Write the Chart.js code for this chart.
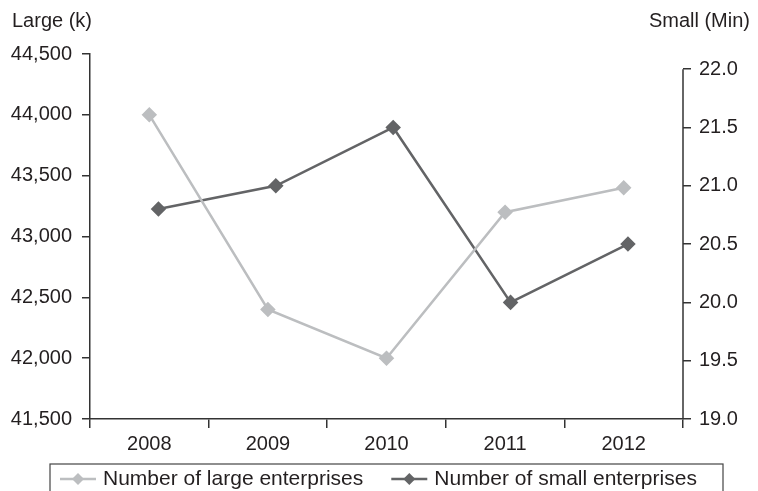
<!DOCTYPE html>
<html>
<head>
<meta charset="utf-8">
<script src="https://cdn.jsdelivr.net/npm/chart.js@4.4.1/dist/chart.umd.min.js"></script>
<style>
  html, body { margin: 0; padding: 0; background: #fff; }
  #chart { display: block; }
</style>
</head>
<body>
<canvas id="chart" width="758" height="491"></canvas>
<script>
// data
const years = ['2008', '2009', '2010', '2011', '2012'];
const largeEnterprises = [44000, 42400, 42000, 43200, 43400];
const smallEnterprises = [20.8, 21.0, 21.5, 20.0, 20.5];
const largeLabel = 'Number of large enterprises';
const smallLabel = 'Number of small enterprises';
const largeTitle = 'Large (k)';
const smallTitle = 'Small (Min)';

const textColor = '#231f20';
const axisColor = '#333333';
const largeColor = '#bcbec0';
const smallColor = '#636466';
const fontFamily = '"Liberation Sans", Arial, sans-serif';

// axis titles on top of the two y axes + boxed legend under the x axis
const extrasPlugin = {
  id: 'extras',
  afterDraw(chart) {
    const ctx = chart.ctx;
    const area = chart.chartArea;
    const yR = chart.scales.yRight;
    ctx.save();

    // right axis line only runs up to the 22.0 tick
    ctx.strokeStyle = axisColor;
    ctx.lineWidth = 1.5;
    ctx.beginPath();
    ctx.moveTo(yR.left, yR.getPixelForValue(22));
    ctx.lineTo(yR.left, area.bottom);
    ctx.stroke();

    ctx.fillStyle = textColor;
    ctx.font = '20px ' + fontFamily;
    ctx.textBaseline = 'middle';
    ctx.textAlign = 'left';
    ctx.fillText(largeTitle, 12, 21);
    ctx.textAlign = 'right';
    ctx.fillText(smallTitle, 750, 21);

    // legend
    const boxW = 673;
    const boxL = (area.left + area.right) / 2 - boxW / 2;
    const boxT = 464;
    ctx.strokeStyle = '#444';
    ctx.lineWidth = 1.2;
    ctx.strokeRect(boxL, boxT, boxW, 60);

    ctx.font = '21px ' + fontFamily;
    ctx.textAlign = 'left';
    const cy = 479;
    const items = [
      { text: largeLabel, color: largeColor },
      { text: smallLabel, color: smallColor },
    ];
    let x = boxL + 10;
    items.forEach(it => {
      ctx.strokeStyle = it.color;
      ctx.fillStyle = it.color;
      ctx.lineWidth = 2.5;
      ctx.beginPath();
      ctx.moveTo(x, cy);
      ctx.lineTo(x + 36, cy);
      ctx.stroke();
      ctx.beginPath();
      ctx.moveTo(x + 18, cy - 6);
      ctx.lineTo(x + 24, cy);
      ctx.lineTo(x + 18, cy + 6);
      ctx.lineTo(x + 12, cy);
      ctx.closePath();
      ctx.fill();
      ctx.fillStyle = textColor;
      ctx.fillText(it.text, x + 43, cy);
      x += 43 + ctx.measureText(it.text).width + 28;
    });
    ctx.restore();
  }
};

new Chart(document.getElementById('chart'), {
  type: 'line',
  data: {
    labels: years,
    datasets: [
      {
        label: largeLabel,
        data: largeEnterprises,
        xAxisID: 'x',
        yAxisID: 'yLeft',
        borderColor: largeColor,
        backgroundColor: largeColor,
        borderWidth: 2.5,
        pointStyle: 'rectRot',
        pointRadius: 6,
        tension: 0,
      },
      {
        label: smallLabel,
        // the small series sits slightly right of the category centres in the reference
        data: smallEnterprises.map((v, i) => ({ x: i, y: v })),
        xAxisID: 'xSmall',
        yAxisID: 'yRight',
        borderColor: smallColor,
        backgroundColor: smallColor,
        borderWidth: 2.5,
        pointStyle: 'rectRot',
        pointRadius: 6,
        tension: 0,
      },
    ],
  },
  options: {
    responsive: false,
    animation: false,
    layout: { padding: { top: 54, left: 0, right: 0, bottom: 28 } },
    plugins: {
      legend: { display: false },
      tooltip: { enabled: false },
    },
    scales: {
      x: {
        type: 'category',
        offset: true,
        afterFit(scale) { scale.height = 44; },
        grid: {
          offset: true,
          drawOnChartArea: false,
          drawTicks: true,
          tickLength: 9,
          color: axisColor,
          lineWidth: 1.5,
        },
        border: { display: true, color: axisColor, width: 1.5 },
        ticks: {
          color: textColor,
          font: { family: fontFamily, size: 20 },
          padding: 4,
          maxRotation: 0,
        },
      },
      xSmall: {
        type: 'linear',
        display: false,
        min: -0.583,
        max: 4.469,
      },
      yLeft: {
        type: 'linear',
        position: 'left',
        min: 41500,
        max: 44500,
        afterFit(scale) { scale.width = 90; },
        grid: {
          drawOnChartArea: false,
          drawTicks: true,
          tickLength: 8,
          color: axisColor,
          lineWidth: 1.5,
        },
        border: { display: true, color: axisColor, width: 1.5 },
        ticks: {
          stepSize: 500,
          color: textColor,
          font: { family: fontFamily, size: 20 },
          padding: 10,
          callback: v => v.toLocaleString('en-US'),
        },
      },
      yRight: {
        type: 'linear',
        position: 'right',
        min: 19,
        max: 22.13,
        afterFit(scale) { scale.width = 75; },
        afterBuildTicks(scale) {
          scale.ticks = scale.ticks.filter(t => t.value <= 22 && Math.abs(t.value * 2 - Math.round(t.value * 2)) < 1e-6);
        },
        grid: {
          drawOnChartArea: false,
          drawTicks: true,
          tickLength: 8,
          color: axisColor,
          lineWidth: 1.5,
        },
        border: { display: false },
        ticks: {
          stepSize: 0.5,
          includeBounds: false,
          color: textColor,
          font: { family: fontFamily, size: 20 },
          padding: 8,
          callback: v => Number(v).toFixed(1),
        },
      },
    },
  },
  plugins: [extrasPlugin],
});
</script>
</body>
</html>
